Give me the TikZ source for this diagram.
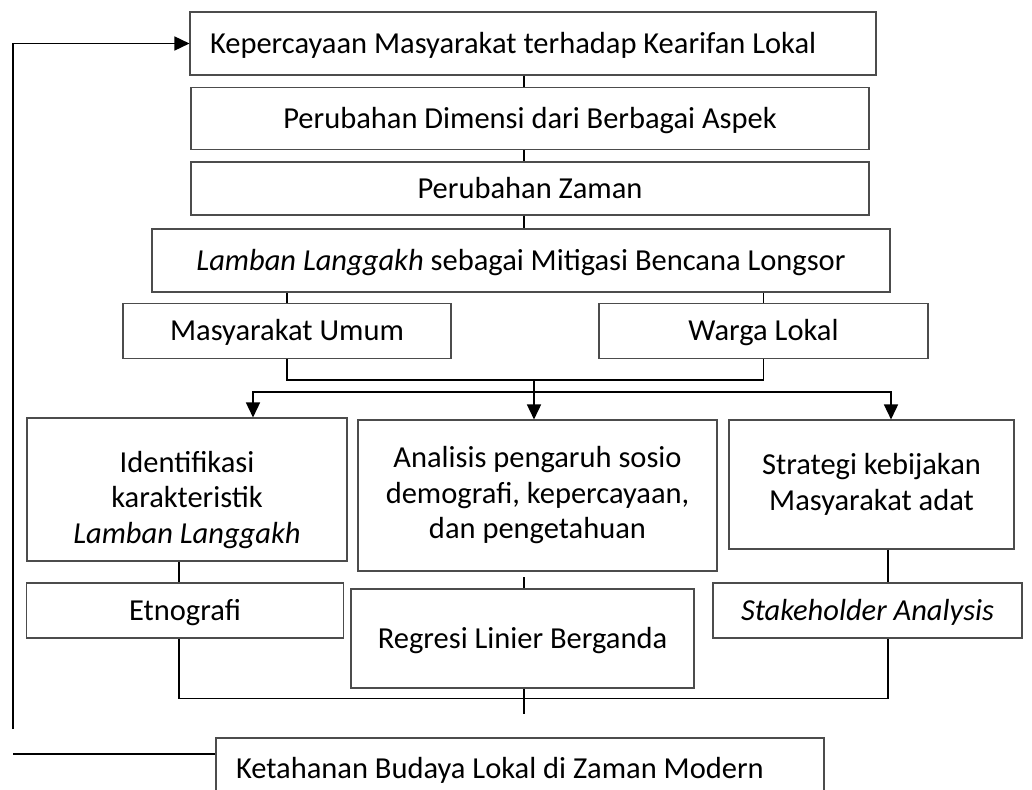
\documentclass[tikz,border=0pt]{standalone}
\usepackage{fontspec}
\setmainfont{Carlito}
\usetikzlibrary{positioning,arrows.meta}

\tikzset{
  box/.style={draw=black!70, line width=1.1pt, inner sep=0pt, align=center,
    font=\fontsize{30.5}{35.5}\selectfont},
  line1/.style={box, text height=19.5pt, text depth=0pt},
  link/.style={line width=1.6pt},
  arr/.style={link, -{Triangle[length=15pt,width=14pt]}}
}

\begin{document}
\begin{tikzpicture}[x=1pt,y=-1pt]
    \useasboundingbox (0,0) rectangle (1032,789);
    \clip (0,0) rectangle (1032,789);

    % Columns
    \coordinate (spine) at (524,0);
    \coordinate (colA) at (179,0);
    \coordinate (colB) at (524,0);
    \coordinate (colC) at (888,0);

    % Top chain
    \node[line1, minimum width=686pt, minimum height=63pt] at (533,43.5) (percaya) {\makebox[646pt][l]{Kepercayaan Masyarakat terhadap Kearifan Lokal}};
    \node[line1, minimum width=678pt, minimum height=62pt] at (530,118.5) (dimensi) {Perubahan Dimensi dari Berbagai Aspek};
    \node[line1, minimum width=678pt, minimum height=53pt] at (530,188.5) (zaman) {Perubahan Zaman};
    \node[line1, minimum width=738pt, minimum height=63pt] at (521,260.5) (lamban) {\textit{Lamban Langgakh} sebagai Mitigasi Bencana Longsor};

    \draw[link] (percaya.south -| spine) -- (dimensi.north -| spine);
    \draw[link] (dimensi.south -| spine) -- (zaman.north -| spine);
    \draw[link] (zaman.south -| spine) -- (lamban.north -| spine);

    % Actors
    \node[line1, minimum width=328pt, minimum height=55pt] at (287,331) (umum) {Masyarakat Umum};
    \node[line1, minimum width=329pt, minimum height=55pt] at (763.5,331) (warga) {Warga Lokal};

    \draw[link] (umum.north) -- (umum.north |- lamban.south);
    \draw[link] (warga.north) -- (warga.north |- lamban.south);
    \draw[link] (umum.south) -- ++(0,21) -| (warga.south);

    % Split
    \coordinate (join) at (534,380);
    \coordinate (split) at (534,392);
    \draw[link] (join) -- (split);

    % Analyses
    \node[box, minimum width=320pt, minimum height=143pt] at (187,489.5) (ident) {\rule{0pt}{42pt}Identifikasi\\karakteristik\\\textit{Lamban Langgakh}};
    \node[box, minimum width=359pt, minimum height=151pt] at (537.5,495.5) (analisis) {Analisis pengaruh sosio\\demografi, kepercayaan,\\dan pengetahuan};
    \node[box, minimum width=285pt, minimum height=129pt] at (871.5,484.5) (strategi) {Strategi kebijakan\\Masyarakat adat};

    \draw[arr] (split) -| ([xshift=66pt]ident.north);
    \draw[arr] (split) -- (analisis.north -| split);
    \draw[arr] (split) -| ([xshift=19.5pt]strategi.north);

    % Methods
    \node[line1, minimum width=317pt, minimum height=55pt] at (185,610.5) (etno) {Etnografi};
    \node[line1, minimum width=343pt, minimum height=99pt] at (522.5,638.5) (regresi) {Regresi Linier Berganda};
    \node[line1, minimum width=309pt, minimum height=55pt] at (867.5,610.5) (stake) {\textit{Stakeholder Analysis}};

    \draw[link] (ident.south -| colA) -- (etno.north -| colA);
    \draw[link] (regresi.north -| colB) -- ++(0,-11);
    \draw[link] (strategi.south -| colC) -- (stake.north -| colC);
    \draw[link] (etno.south -| colA) -- ++(0,60) -| (stake.south -| colC);
    \draw[link] (regresi.south -| colB) -- ++(0,25);

    % Result and loop back
    \node[line1, minimum width=608pt, minimum height=62pt] at (520,769) (budaya) {\makebox[568pt][l]{Ketahanan Budaya Lokal di Zaman Modern}};

    \coordinate (loopL) at (13,729);
    \coordinate (loopB) at (13,754);
    \draw[link] ([yshift=15pt]budaya.west) -- (loopB);
    \draw[arr] (loopL) |- (percaya.west);
\end{tikzpicture}
\end{document}
